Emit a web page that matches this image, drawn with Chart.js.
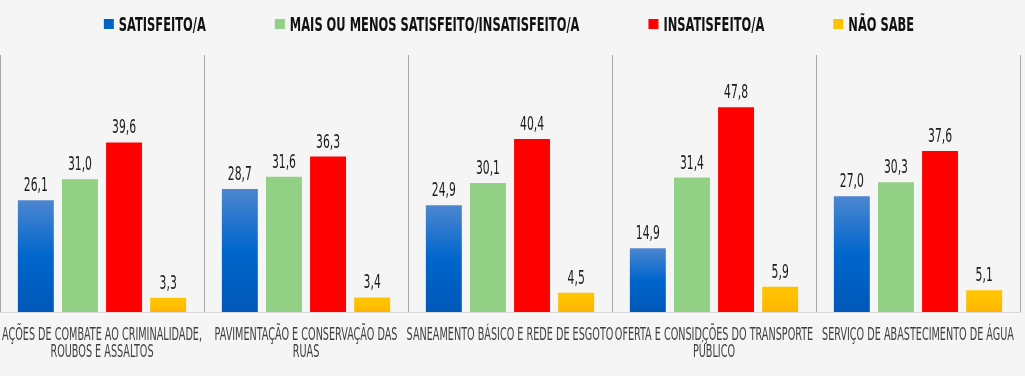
<!DOCTYPE html>
<html>
<head>
<meta charset="utf-8">
<script src="https://cdn.jsdelivr.net/npm/chart.js@4.4.1/dist/chart.umd.min.js"></script>
<style>
  html, body { margin: 0; padding: 0; background: #f5f5f5; }
  canvas { display: block; }
</style>
</head>
<body>
<canvas id="c" width="1025" height="376"></canvas>
<script>
const categories = [
  ["AÇÕES DE COMBATE AO CRIMINALIDADE,", "ROUBOS E ASSALTOS"],
  ["PAVIMENTAÇÃO E CONSERVAÇÃO DAS", "RUAS"],
  ["SANEAMENTO BÁSICO E REDE DE ESGOTO"],
  ["OFERTA E CONSIDÇÕES DO TRANSPORTE", "PÚBLICO"],
  ["SERVIÇO DE ABASTECIMENTO DE ÁGUA"]
];
const seriesNames = ["SATISFEITO/A", "MAIS OU MENOS SATISFEITO/INSATISFEITO/A", "INSATISFEITO/A", "NÃO SABE"];
const satisfeito = [26.1, 28.7, 24.9, 14.9, 27.0];
const maisOuMenos = [31.0, 31.6, 30.1, 31.4, 30.3];
const insatisfeito = [39.6, 36.3, 40.4, 47.8, 37.6];
const naoSabe = [3.3, 3.4, 4.5, 5.9, 5.1];
const legendColors = ["#0062c4", "#92d085", "#ff0000", "#ffc000"];
const gradientStops = [
  ["#4d86d0", "#0066cc", "#0058b8"],
  ["#92d085", "#92d085", "#92d085"],
  ["#ff0000", "#ff0000", "#ff0000"],
  ["#ffc400", "#ffc000", "#ffb400"]
];

const FAMILY = '"DejaVu Sans", sans-serif';

function setFont(c, spec) {
  c.font = spec;
  if ('fontStretch' in c) c.fontStretch = 'condensed';
}
function drawScaled(c, text, x, y, k, align) {
  c.save();
  c.translate(x, y);
  c.scale(k, 1);
  c.textAlign = align;
  c.textBaseline = 'alphabetic';
  c.fillText(text, 0, 0);
  c.restore();
}

function barGradient(si) {
  return function (ctx) {
    const chart = ctx.chart;
    const area = chart.chartArea;
    if (!area || ctx.type !== 'data') return gradientStops[si][1];
    const y = chart.scales.y;
    const top = y.getPixelForValue(ctx.raw);
    const bottom = y.getPixelForValue(0);
    if (!isFinite(top) || !isFinite(bottom) || bottom - top < 1) return gradientStops[si][1];
    const g = chart.ctx.createLinearGradient(0, top, 0, bottom);
    g.addColorStop(0, gradientStops[si][0]);
    g.addColorStop(0.5, gradientStops[si][1]);
    g.addColorStop(1, gradientStops[si][2]);
    return g;
  };
}

const bgPlugin = {
  id: 'bg',
  beforeDraw(chart) {
    const c = chart.ctx;
    c.save();
    c.fillStyle = '#f5f5f5';
    c.fillRect(0, 0, chart.width, chart.height);
    c.restore();
  }
};

const textPlugin = {
  id: 'texts',
  afterDraw(chart) {
    const c = chart.ctx;
    c.save();

    // Legend
    setFont(c, 'bold 19px ' + FAMILY);
    const kL = 87 / c.measureText(seriesNames[0]).width;
    const box = 10, boxGap = 5, itemGap = 69;
    const widths = seriesNames.map(n => c.measureText(n).width * kL);
    const total = widths.reduce((a, w) => a + box + boxGap + w, 0) + itemGap * (seriesNames.length - 1);
    let x = 509 - total / 2;
    seriesNames.forEach((n, i) => {
      c.fillStyle = legendColors[i];
      c.fillRect(x, 19, box, box);
      c.fillStyle = '#111111';
      drawScaled(c, n, x + box + boxGap, 31, kL, 'left');
      x += box + boxGap + widths[i] + itemGap;
    });

    // Value labels
    setFont(c, '19px ' + FAMILY);
    const kV = 24 / c.measureText('26,1').width;
    c.fillStyle = '#1a1a1a';
    chart.data.datasets.forEach((ds, di) => {
      const meta = chart.getDatasetMeta(di);
      meta.data.forEach((bar, i) => {
        const v = ds.data[i];
        drawScaled(c, v.toFixed(1).replace('.', ','), bar.x, bar.y - 9, kV, 'center');
      });
    });

    // Category labels
    const xs = chart.scales.x;
    setFont(c, '17px ' + FAMILY);
    const kC = 200 / c.measureText(categories[0][0]).width;
    c.fillStyle = '#404040';
    chart.data.labels.forEach((lines, i) => {
      const px = xs.getPixelForTick(i);
      lines.forEach((ln, j) => {
        drawScaled(c, ln, px, xs.top + 27.5 + j * 17.5, kC, 'center');
      });
    });

    c.restore();
  }
};

const datasets = [satisfeito, maisOuMenos, insatisfeito, naoSabe].map((arr, si) => ({
  label: seriesNames[si],
  data: arr,
  backgroundColor: barGradient(si),
  borderWidth: 0,
  categoryPercentage: 0.865,
  barPercentage: 0.815
}));

new Chart(document.getElementById('c'), {
  type: 'bar',
  data: { labels: categories, datasets },
  options: {
    responsive: false,
    animation: false,
    layout: { padding: { top: 55, left: 0, right: 5, bottom: 0 } },
    plugins: { legend: { display: false }, tooltip: { enabled: false } },
    scales: {
      y: { display: false, min: 0, max: 60 },
      x: {
        offset: true,
        grid: {
          offset: true,
          drawTicks: false,
          color: (ctx) => (ctx.index === categories.length ? 'rgba(0,0,0,0)' : '#a6a6a6'),
          lineWidth: 1
        },
        border: { display: true, color: '#d9d9d9', width: 1 },
        ticks: { display: false },
        afterFit(scale) { scale.height = 64; scale.paddingLeft = 0; scale.paddingRight = 0; }
      }
    }
  },
  plugins: [bgPlugin, textPlugin]
});
</script>
</body>
</html>
